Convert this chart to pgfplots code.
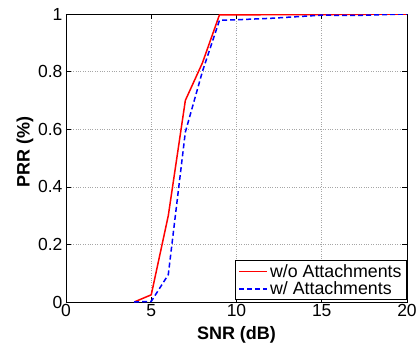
\documentclass[border=0pt]{standalone}
\usepackage{fontspec}
\setmainfont{Liberation Sans}
\usepackage{pgfplots}
\pgfplotsset{compat=1.18}
\begin{document}
\begin{tikzpicture}
\path[use as bounding box] (-66pt,-44pt) rectangle (354pt,302pt);
\begin{axis}[
  at={(0,0)}, anchor=south west,
  scale only axis,
  width=341pt, height=288pt,
  xmin=0, xmax=20, ymin=0, ymax=1,
  xtick={0,5,10,15,20},
  ytick={0,0.2,0.4,0.6,0.8,1},
  tick pos=both,
  tick align=inside,
  major tick length=5pt,
  axis line style={line width=0.8pt},
  every tick/.style={black, line width=0.6pt},
  grid=major,
  grid style={dotted, gray!70, line width=0.6pt},
  /pgf/number format/assume math mode=true,
  tick label style={font=\fontsize{17.5}{20}\selectfont},
  xticklabel style={yshift=1pt},
  xlabel={SNR (dB)},
  ylabel={PRR (\%)},
  label style={font=\fontsize{18}{21}\selectfont\bfseries},
  xlabel style={at={(axis description cs:0.5,-0.115)}, anchor=center},
  ylabel style={at={(axis description cs:-0.12,0.52)}, anchor=center},
  legend style={at={(1,0)}, anchor=south east, yshift=2pt,
    font=\fontsize{17.8}{20}\selectfont, draw=black, line width=0.8pt,
    inner xsep=3pt, inner ysep=1.5pt, row sep=-1pt, cells={anchor=west}},
  legend image code/.code={\draw[#1] (0pt,0pt) -- (28pt,0pt);},
]
\addplot[red, line width=1.5pt] coordinates {
  (4,0) (5,0.025) (6,0.30) (7,0.70) (8,0.83) (9,0.997) (15,0.998) (20,1.0)
};
\addlegendentry{w/o Attachments}
\addplot[blue, line width=1.5pt, dash pattern=on 5pt off 3pt] coordinates {
  (4,0) (5,0.002) (6,0.095) (7,0.59) (8,0.80) (9,0.978) (10,0.980) (12,0.985) (15,0.996) (17,0.995) (20,1.0)
};
\addlegendentry{w/ Attachments}
\end{axis}
\end{tikzpicture}
\end{document}
